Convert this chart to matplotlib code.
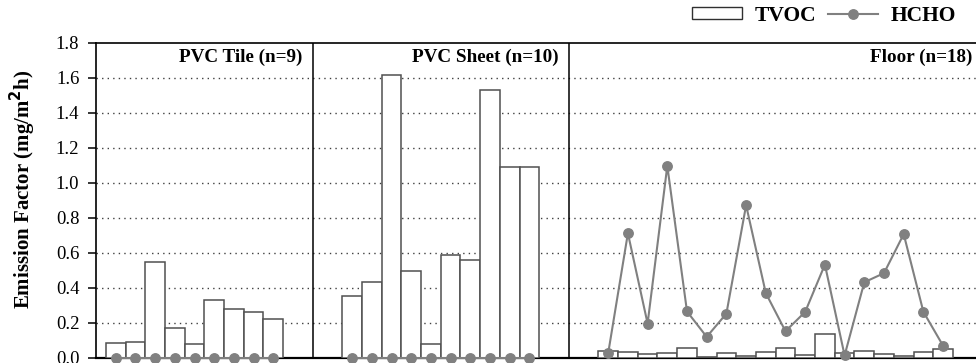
import matplotlib
matplotlib.use("Agg")
import matplotlib.pyplot as plt
import numpy as np
from matplotlib.patches import Patch
from matplotlib.lines import Line2D

plt.rcParams['font.family'] = ['Liberation Serif', 'DejaVu Serif']

# ---- data ----
groups = ["PVC Tile (n=9)", "PVC Sheet (n=10)", "Floor (n=18)"]
tvoc_tile = [0.085, 0.09, 0.545, 0.17, 0.077, 0.33, 0.276, 0.26, 0.221]
tvoc_sheet = [0.352, 0.432, 1.612, 0.496, 0.076, 0.587, 0.558, 1.530, 1.086, 1.086]
tvoc_floor = [0.037, 0.033, 0.019, 0.024, 0.056, 0.004, 0.024, 0.009, 0.030, 0.055,
              0.012, 0.133, 0.026, 0.036, 0.019, 0.007, 0.031, 0.050]
hcho_tile = [0.0] * 9
hcho_sheet = [0.0] * 10
hcho_floor = [0.025, 0.71, 0.194, 1.095, 0.263, 0.118, 0.251, 0.870, 0.368, 0.150,
              0.261, 0.531, 0.012, 0.430, 0.482, 0.705, 0.261, 0.067]
yticks = [0.0, 0.2, 0.4, 0.6, 0.8, 1.0, 1.2, 1.4, 1.6, 1.8]

tvoc_groups = [tvoc_tile, tvoc_sheet, tvoc_floor]
hcho_groups = [hcho_tile, hcho_sheet, hcho_floor]

fig = plt.figure(figsize=(9.76, 3.63), dpi=100)
ax = fig.add_axes([96 / 976, 5.5 / 363, 1 - 96 / 976, (357.5 - 42.5) / 363])

gray = '#808080'
start = 1
for gi, (tv, hc, name) in enumerate(zip(tvoc_groups, hcho_groups, groups)):
    x = start + np.arange(len(tv))
    ax.bar(x, tv, width=1.0, facecolor='white', edgecolor='#505050', linewidth=1.1, zorder=3)
    ax.plot(x, hc, color=gray, linewidth=1.5, marker='o', markersize=6.8,
            markerfacecolor=gray, markeredgecolor=gray, zorder=5, clip_on=False)
    end = x[-1] + 2
    ax.text(end - 0.5, 1.714, name, ha='right', va='center', fontsize=13.8,
            fontweight='bold', zorder=6)
    if gi < len(groups) - 1:
        ax.axvline(end, color='black', linewidth=1.1, zorder=4)
    start = end + 2

ax.set_xlim(0, 44.67)
ax.set_ylim(0, 1.8)
ax.set_yticks(yticks)
ax.set_yticklabels([f"{v:.1f}" for v in yticks], fontsize=13.5)
ax.set_xticks([])
for v in yticks[1:-1]:
    ax.axhline(v, color='#404040', linewidth=1.0, linestyle=(0, (1, 3)), zorder=1)

ax.spines['right'].set_visible(False)
ax.spines['top'].set_linewidth(1.2)
ax.spines['left'].set_linewidth(1.2)
ax.spines['bottom'].set_linewidth(1.6)
ax.tick_params(axis='y', direction='out', length=6, width=1.1, pad=6)

ax.set_ylabel("Emission Factor (mg/m$^\\mathbf{2}$h)", fontsize=15, fontweight='bold')
ax.yaxis.set_label_coords(-0.0655, 0.533)

handles = [Patch(facecolor='white', edgecolor='#303030', linewidth=1.0),
           Line2D([0], [0], color=gray, linewidth=1.5, marker='o', markersize=6.8,
                  markerfacecolor=gray, markeredgecolor=gray)]
leg = fig.legend(handles, ["TVOC", "HCHO"], loc='center right',
                 bbox_to_anchor=(956 / 976, 1 - 16 / 363), ncol=2, frameon=False,
                 prop={'weight': 'bold', 'size': 15.5}, handlelength=2.3,
                 handleheight=0.5, handletextpad=0.6, columnspacing=0.55,
                 borderpad=0, borderaxespad=0)

fig.savefig("out.png", dpi=100)
